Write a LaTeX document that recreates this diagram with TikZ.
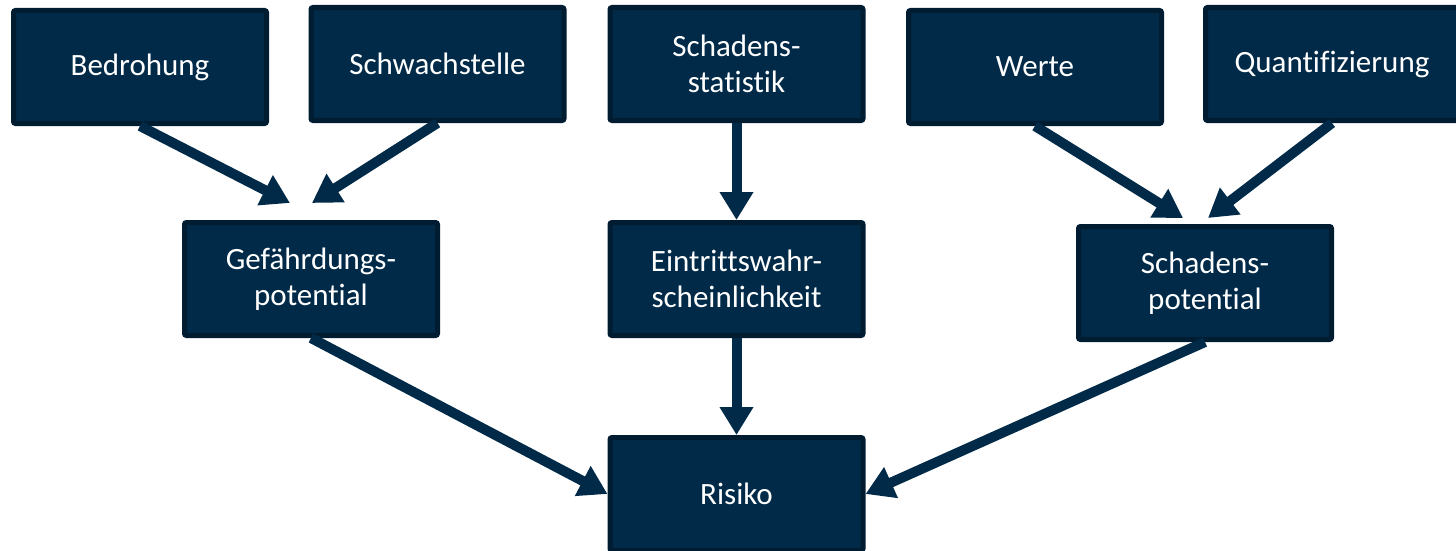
\documentclass[tikz,border=0pt]{standalone}
\usepackage{fontspec}
\setmainfont{Carlito}[Ligatures=NoCommon]
\usetikzlibrary{arrows.meta,calc}
\definecolor{boxfill}{HTML}{002A48}
\definecolor{boxline}{HTML}{001C31}
\definecolor{arr}{HTML}{002A48}
\tikzset{
  box/.style={draw=boxline, fill=boxfill, line width=5pt, rounded corners=2pt,
    minimum width=253pt, minimum height=113pt, inner sep=0pt,
    text=white, align=center, font=\fontsize{31}{36}\selectfont},
  conn/.style={draw=arr, line width=10pt, -{Triangle[width=32pt,length=28pt]}}
}
\begin{document}
\begin{tikzpicture}[x=1pt,y=-1pt]
\useasboundingbox (0,0) rectangle (1456,551);
\node[box] (bed) at (140,67) {Bedrohung};
\node[box] (schw) at (437.5,64) {Schwachstelle};
\node[box] (stat) at (736.5,64) {Schadens-\\statistik};
\node[box] (wer) at (1035,67) {Werte};
\node[box] (quant) at (1332,64) {Quantifizierung};
\node[box] (gef) at (311,279) {Gefährdungs-\\potential};
\node[box] (ein) at (736.5,279) {Eintrittswahr-\\scheinlichkeit};
\node[box] (sp) at (1205,283) {Schadens-\\potential};
\node[box] (ris) at (736.5,494) {Risiko};
\coordinate (t1) at ($(gef.north)+(-21,-17)$);
\coordinate (t2) at ($(gef.north)+(1,-17)$);
\coordinate (t4) at ($(sp.north)+(-22,-6)$);
\coordinate (t5) at ($(sp.north)+(3,-6)$);
\draw[conn] (bed.south) -- (t1);
\draw[conn] (schw.south) -- (t2);
\draw[conn] (stat.south) -- (ein.north);
\draw[conn] (wer.south) -- (t4);
\draw[conn] (quant.south) -- (t5);
\draw[conn] (gef.south) -- (ris.west);
\draw[conn] (ein.south) -- (ris.north);
\draw[conn] (sp.south) -- (ris.east);
\end{tikzpicture}
\end{document}
